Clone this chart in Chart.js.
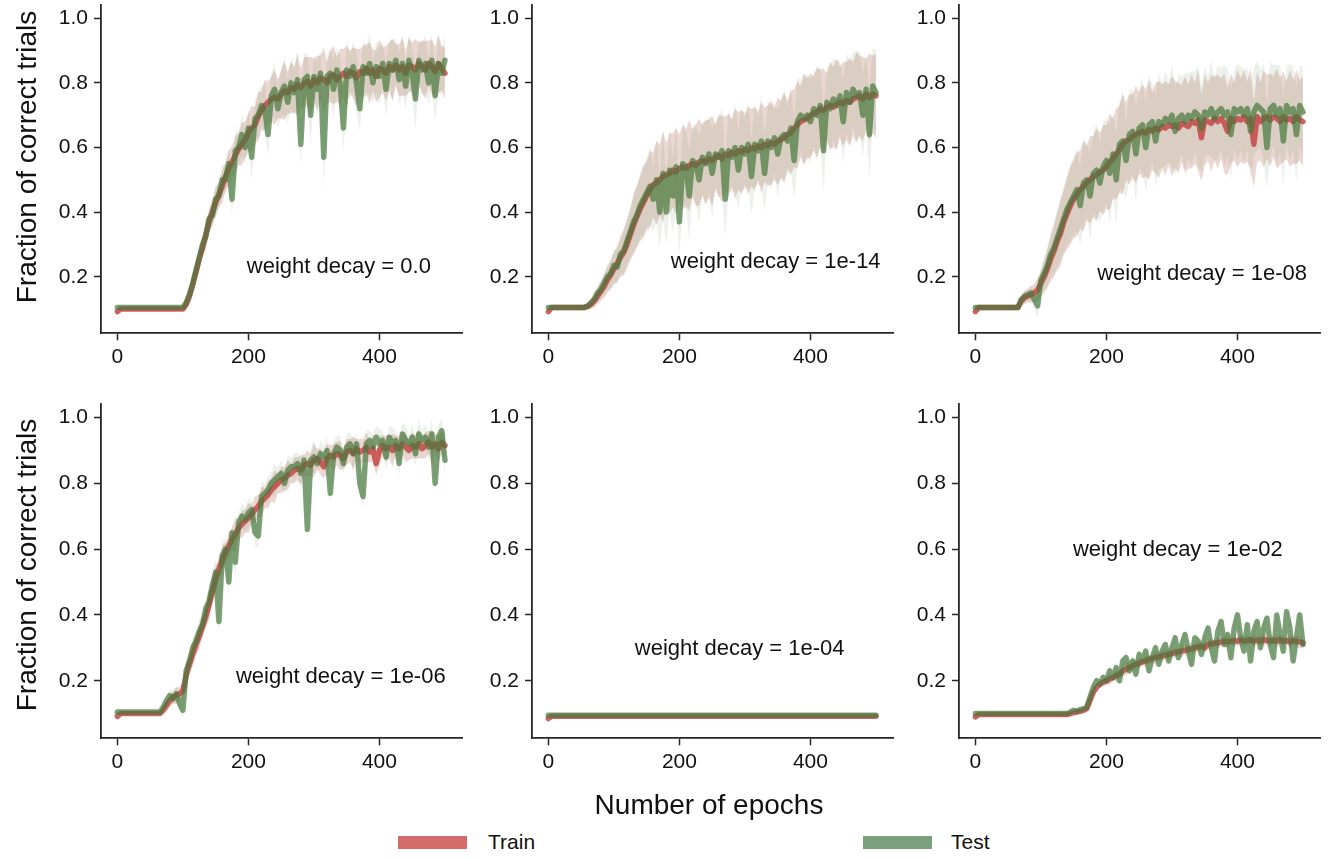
<!DOCTYPE html>
<html>
<head>
<meta charset="utf-8">
<script src="https://cdn.jsdelivr.net/npm/chart.js@4.4.1/dist/chart.umd.min.js"></script>
<style>
  body { margin: 0; background: #fff; width: 1332px; height: 859px; position: relative; overflow: hidden;
         font-family: 'Liberation Sans', Arial, sans-serif; color: #111; }
  canvas { position: absolute; }
  .xtitle { position: absolute; left: 509px; width: 400px; top: 789px; text-align: center; font-size: 28px; line-height: 32px; }
  .ytitle { position: absolute; left: 27px; font-size: 28px; line-height: 32px; white-space: nowrap;
            transform: translate(-50%, -50%) rotate(-90deg); }
  .patch { position: absolute; top: 836px; width: 69px; height: 13px; }
  .legtext { position: absolute; top: 830px; font-size: 21px; line-height: 24px; }
</style>
</head>
<body>
<canvas id="p0" width="470" height="380" style="left:0px;top:0px"></canvas>
<canvas id="p1" width="470" height="380" style="left:431px;top:0px"></canvas>
<canvas id="p2" width="470" height="380" style="left:858px;top:0px"></canvas>
<canvas id="p3" width="470" height="380" style="left:0px;top:400px"></canvas>
<canvas id="p4" width="470" height="380" style="left:431px;top:400px"></canvas>
<canvas id="p5" width="470" height="380" style="left:858px;top:400px"></canvas>
<div class="ytitle" style="top:157px">Fraction of correct trials</div>
<div class="ytitle" style="top:565px">Fraction of correct trials</div>
<div class="xtitle">Number of epochs</div>
<div class="patch" style="left:398px;background:#d36b6b"></div>
<div class="legtext" style="left:488px">Train</div>
<div class="patch" style="left:863px;background:#7ba07b"></div>
<div class="legtext" style="left:951px">Test</div>
<script>
// epochs sampled every 5 (0..500)
const epochs = Array.from({length: 101}, (_, i) => i * 5);
const flatEpochs = [0, 5, 100, 200, 300, 400, 500];
const xTicks = [0, 200, 400];
const yTicks = [0.2, 0.4, 0.6, 0.8, 1.0];
const decayLabels = ['0.0', '1e-14', '1e-08', '1e-06', '1e-04', '1e-02'];

// weight decay = 0.0
const trainWd0 = [
  0.092, 0.1, 0.1, 0.1, 0.1, 0.1, 0.1, 0.1, 0.1, 0.1,
  0.1, 0.1, 0.1, 0.1, 0.1, 0.1, 0.1, 0.1, 0.1, 0.1,
  0.1, 0.115, 0.14, 0.175, 0.215, 0.255, 0.29, 0.33, 0.37, 0.4,
  0.43, 0.455, 0.48, 0.51, 0.535, 0.555, 0.575, 0.595, 0.61, 0.625,
  0.645, 0.66, 0.67, 0.695, 0.715, 0.73, 0.74, 0.75, 0.755, 0.75,
  0.765, 0.775, 0.77, 0.785, 0.78, 0.795, 0.785, 0.8, 0.805, 0.79,
  0.81, 0.8, 0.815, 0.81, 0.8, 0.82, 0.825, 0.81, 0.82, 0.83,
  0.82, 0.835, 0.83, 0.815, 0.835, 0.83, 0.845, 0.83, 0.84, 0.82,
  0.845, 0.84, 0.83, 0.85, 0.84, 0.855, 0.84, 0.85, 0.83, 0.855,
  0.85, 0.84, 0.86, 0.85, 0.84, 0.86, 0.85, 0.835, 0.86, 0.845,
  0.83
];
const testWd0 = [
  0.105, 0.105, 0.105, 0.105, 0.105, 0.105, 0.105, 0.105, 0.105, 0.105,
  0.105, 0.105, 0.105, 0.105, 0.105, 0.105, 0.105, 0.105, 0.105, 0.105,
  0.105, 0.12, 0.145, 0.18, 0.22, 0.26, 0.3, 0.325, 0.38, 0.39,
  0.44, 0.45, 0.5, 0.5, 0.55, 0.44, 0.59, 0.6, 0.64, 0.6,
  0.66, 0.57, 0.69, 0.7, 0.73, 0.72, 0.64, 0.76, 0.78, 0.72,
  0.77, 0.79, 0.74, 0.8, 0.77, 0.81, 0.61, 0.81, 0.82, 0.7,
  0.82, 0.78, 0.83, 0.57, 0.82, 0.83, 0.78, 0.84, 0.8, 0.66,
  0.84, 0.82, 0.85, 0.8, 0.72, 0.85, 0.83, 0.86, 0.8, 0.85,
  0.82, 0.86, 0.78, 0.86, 0.84, 0.87, 0.81, 0.86, 0.79, 0.87,
  0.83, 0.75, 0.87, 0.84, 0.86, 0.8, 0.87, 0.76, 0.86, 0.83,
  0.87
];
const spreadWd0 = [
  0.005, 0.005, 0.005, 0.005, 0.005, 0.005, 0.005, 0.005, 0.005, 0.005,
  0.005, 0.005, 0.005, 0.005, 0.005, 0.005, 0.005, 0.005, 0.005, 0.005,
  0.005, 0.02, 0.025, 0.03, 0.03, 0.035, 0.03, 0.04, 0.035, 0.04,
  0.045, 0.04, 0.05, 0.045, 0.055, 0.05, 0.06, 0.05, 0.065, 0.055,
  0.06, 0.07, 0.055, 0.075, 0.06, 0.08, 0.065, 0.07, 0.085, 0.06,
  0.075, 0.09, 0.065, 0.08, 0.07, 0.095, 0.06, 0.08, 0.075, 0.09,
  0.065, 0.085, 0.07, 0.1, 0.065, 0.08, 0.09, 0.07, 0.085, 0.075,
  0.095, 0.065, 0.08, 0.09, 0.07, 0.085, 0.075, 0.095, 0.065, 0.08,
  0.09, 0.07, 0.085, 0.075, 0.095, 0.065, 0.08, 0.09, 0.07, 0.085,
  0.075, 0.095, 0.065, 0.08, 0.09, 0.07, 0.085, 0.075, 0.09, 0.07,
  0.08
];

// weight decay = 1e-14
const trainWd14 = [
  0.092, 0.105, 0.105, 0.105, 0.105, 0.105, 0.105, 0.105, 0.105, 0.105,
  0.105, 0.105, 0.108, 0.115, 0.125, 0.14, 0.155, 0.17, 0.19, 0.205,
  0.225, 0.24, 0.26, 0.275, 0.3, 0.33, 0.36, 0.385, 0.41, 0.43,
  0.45, 0.47, 0.485, 0.49, 0.5, 0.51, 0.515, 0.52, 0.53, 0.525,
  0.535, 0.54, 0.535, 0.545, 0.55, 0.545, 0.555, 0.56, 0.555, 0.565,
  0.56, 0.57, 0.575, 0.565, 0.58, 0.575, 0.585, 0.58, 0.59, 0.585,
  0.595, 0.59, 0.6, 0.595, 0.605, 0.6, 0.61, 0.605, 0.615, 0.61,
  0.62, 0.625, 0.63, 0.64, 0.645, 0.66, 0.67, 0.68, 0.685, 0.69,
  0.7, 0.705, 0.71, 0.72, 0.715, 0.725, 0.73, 0.725, 0.735, 0.74,
  0.735, 0.745, 0.74, 0.75, 0.755, 0.76, 0.75, 0.765, 0.755, 0.765,
  0.76
];
const testWd14 = [
  0.105, 0.105, 0.105, 0.105, 0.105, 0.105, 0.105, 0.105, 0.105, 0.105,
  0.105, 0.105, 0.11, 0.12, 0.13, 0.15, 0.16, 0.18, 0.2, 0.21,
  0.235, 0.23, 0.27, 0.28, 0.31, 0.34, 0.37, 0.39, 0.42, 0.44,
  0.46, 0.48, 0.44, 0.5, 0.4, 0.52, 0.4, 0.53, 0.45, 0.54,
  0.37, 0.55, 0.54, 0.45, 0.56, 0.55, 0.5, 0.57, 0.55, 0.58,
  0.52, 0.58, 0.57, 0.59, 0.44, 0.59, 0.57, 0.6, 0.53, 0.6,
  0.58, 0.61, 0.51, 0.61, 0.59, 0.62, 0.52, 0.62, 0.6, 0.63,
  0.58, 0.63, 0.64, 0.62, 0.66, 0.56, 0.68, 0.7, 0.69, 0.7,
  0.68, 0.72, 0.7, 0.73, 0.59, 0.74, 0.72, 0.75, 0.73, 0.76,
  0.68, 0.77, 0.74, 0.78, 0.76, 0.77, 0.7, 0.78, 0.64, 0.79,
  0.77
];
const spreadWd14 = [
  0.005, 0.005, 0.005, 0.005, 0.005, 0.005, 0.005, 0.005, 0.005, 0.005,
  0.005, 0.005, 0.01, 0.015, 0.02, 0.025, 0.03, 0.035, 0.04, 0.045,
  0.05, 0.055, 0.06, 0.07, 0.075, 0.08, 0.09, 0.095, 0.1, 0.11,
  0.105, 0.12, 0.1, 0.13, 0.11, 0.14, 0.1, 0.125, 0.115, 0.135,
  0.105, 0.13, 0.12, 0.14, 0.105, 0.125, 0.135, 0.11, 0.13, 0.12,
  0.14, 0.1, 0.125, 0.135, 0.115, 0.13, 0.105, 0.14, 0.12, 0.13,
  0.11, 0.135, 0.12, 0.13, 0.105, 0.14, 0.115, 0.125, 0.13, 0.11,
  0.135, 0.12, 0.14, 0.105, 0.13, 0.12, 0.135, 0.11, 0.14, 0.125,
  0.13, 0.115, 0.14, 0.12, 0.13, 0.105, 0.135, 0.125, 0.14, 0.11,
  0.13, 0.12, 0.135, 0.115, 0.14, 0.125, 0.13, 0.11, 0.135, 0.12,
  0.13
];

// weight decay = 1e-08
const trainWd8 = [
  0.092, 0.105, 0.105, 0.105, 0.105, 0.105, 0.105, 0.105, 0.105, 0.105,
  0.105, 0.105, 0.105, 0.105, 0.125, 0.135, 0.14, 0.145, 0.15, 0.16,
  0.18, 0.2, 0.225, 0.255, 0.28, 0.31, 0.335, 0.37, 0.395, 0.42,
  0.44, 0.455, 0.47, 0.48, 0.49, 0.5, 0.51, 0.515, 0.525, 0.53,
  0.54, 0.555, 0.565, 0.58, 0.595, 0.61, 0.62, 0.625, 0.635, 0.64,
  0.645, 0.65, 0.645, 0.655, 0.65, 0.66, 0.655, 0.665, 0.66, 0.67,
  0.665, 0.67, 0.66, 0.675, 0.67, 0.665, 0.68, 0.675, 0.685, 0.63,
  0.685, 0.68, 0.675, 0.69, 0.68, 0.69, 0.675, 0.65, 0.69, 0.68,
  0.69, 0.685, 0.695, 0.68, 0.69, 0.61, 0.695, 0.68, 0.69, 0.695,
  0.685, 0.695, 0.69, 0.68, 0.695, 0.685, 0.69, 0.68, 0.695, 0.685,
  0.68
];
const testWd8 = [
  0.105, 0.105, 0.105, 0.105, 0.105, 0.105, 0.105, 0.105, 0.105, 0.105,
  0.105, 0.105, 0.105, 0.105, 0.13, 0.14, 0.145, 0.15, 0.13, 0.11,
  0.19, 0.21, 0.235, 0.27, 0.29, 0.32, 0.35, 0.38, 0.41, 0.43,
  0.45, 0.47, 0.42, 0.49, 0.5, 0.45, 0.52, 0.53, 0.49, 0.54,
  0.56, 0.52, 0.58, 0.5, 0.61, 0.62, 0.56, 0.64, 0.65, 0.58,
  0.66, 0.67, 0.6, 0.67, 0.68, 0.62, 0.68, 0.67, 0.69, 0.68,
  0.7, 0.65, 0.69, 0.7, 0.68, 0.7, 0.69, 0.71, 0.7, 0.66,
  0.71, 0.7, 0.72, 0.69, 0.71, 0.72, 0.7, 0.71, 0.64, 0.72,
  0.71, 0.72, 0.7, 0.72, 0.65, 0.71, 0.73, 0.72, 0.71, 0.6,
  0.72, 0.73, 0.7, 0.72, 0.62, 0.73, 0.71, 0.72, 0.64, 0.73,
  0.71
];
const spreadWd8 = [
  0.005, 0.005, 0.005, 0.005, 0.005, 0.005, 0.005, 0.005, 0.005, 0.005,
  0.005, 0.005, 0.005, 0.005, 0.015, 0.02, 0.02, 0.025, 0.03, 0.035,
  0.04, 0.05, 0.06, 0.07, 0.08, 0.09, 0.1, 0.1, 0.11, 0.12,
  0.12, 0.13, 0.12, 0.14, 0.115, 0.135, 0.125, 0.145, 0.12, 0.14,
  0.13, 0.15, 0.125, 0.14, 0.135, 0.155, 0.12, 0.14, 0.13, 0.15,
  0.125, 0.145, 0.135, 0.155, 0.12, 0.14, 0.15, 0.13, 0.145, 0.125,
  0.155, 0.135, 0.14, 0.12, 0.15, 0.13, 0.145, 0.125, 0.155, 0.135,
  0.14, 0.12, 0.15, 0.13, 0.145, 0.125, 0.155, 0.135, 0.14, 0.12,
  0.15, 0.13, 0.145, 0.125, 0.155, 0.135, 0.14, 0.12, 0.15, 0.13,
  0.145, 0.125, 0.155, 0.135, 0.14, 0.12, 0.15, 0.13, 0.145, 0.125,
  0.14
];

// weight decay = 1e-06
const trainWd6 = [
  0.092, 0.1, 0.1, 0.1, 0.1, 0.1, 0.1, 0.1, 0.1, 0.1,
  0.1, 0.1, 0.1, 0.1, 0.11, 0.125, 0.14, 0.15, 0.155, 0.16,
  0.17, 0.215, 0.25, 0.28, 0.31, 0.335, 0.365, 0.395, 0.43, 0.47,
  0.51, 0.54, 0.565, 0.59, 0.61, 0.63, 0.645, 0.665, 0.675, 0.685,
  0.695, 0.705, 0.72, 0.73, 0.745, 0.755, 0.765, 0.78, 0.79, 0.8,
  0.81, 0.815, 0.825, 0.83, 0.84, 0.845, 0.84, 0.855, 0.86, 0.855,
  0.87, 0.875, 0.865, 0.85, 0.875, 0.885, 0.88, 0.89, 0.885, 0.875,
  0.895, 0.9, 0.89, 0.905, 0.895, 0.9, 0.91, 0.895, 0.905, 0.86,
  0.9, 0.915, 0.905, 0.91, 0.9, 0.915, 0.905, 0.92, 0.91, 0.9,
  0.915, 0.91, 0.92, 0.905, 0.915, 0.925, 0.91, 0.92, 0.905, 0.925,
  0.915
];
const testWd6 = [
  0.105, 0.105, 0.105, 0.105, 0.105, 0.105, 0.105, 0.105, 0.105, 0.105,
  0.105, 0.105, 0.105, 0.105, 0.12, 0.14, 0.155, 0.145, 0.16, 0.13,
  0.11, 0.23, 0.26, 0.3, 0.32, 0.35, 0.37, 0.42, 0.44, 0.49,
  0.53, 0.38, 0.58, 0.6, 0.5, 0.65, 0.56, 0.68, 0.7, 0.69,
  0.71, 0.72, 0.65, 0.64, 0.76, 0.77, 0.78, 0.8, 0.81, 0.82,
  0.83, 0.8, 0.84, 0.85, 0.85, 0.86, 0.83, 0.87, 0.66, 0.87,
  0.88, 0.86, 0.89, 0.88, 0.9, 0.77, 0.89, 0.91, 0.9, 0.86,
  0.91, 0.92, 0.89, 0.92, 0.8, 0.76, 0.92, 0.93, 0.91, 0.94,
  0.92, 0.93, 0.88, 0.94, 0.92, 0.93, 0.86, 0.95, 0.93, 0.92,
  0.94, 0.89, 0.95, 0.93, 0.94, 0.91, 0.95, 0.8, 0.94, 0.96,
  0.87
];
const spreadWd6 = [
  0.004, 0.004, 0.004, 0.004, 0.004, 0.004, 0.004, 0.004, 0.004, 0.004,
  0.004, 0.004, 0.004, 0.004, 0.01, 0.015, 0.02, 0.02, 0.025, 0.02,
  0.025, 0.03, 0.025, 0.035, 0.03, 0.04, 0.03, 0.035, 0.045, 0.03,
  0.04, 0.035, 0.045, 0.03, 0.04, 0.035, 0.05, 0.03, 0.04, 0.035,
  0.045, 0.03, 0.04, 0.035, 0.045, 0.03, 0.04, 0.035, 0.05, 0.03,
  0.04, 0.035, 0.045, 0.03, 0.04, 0.035, 0.045, 0.03, 0.04, 0.035,
  0.05, 0.03, 0.04, 0.035, 0.045, 0.03, 0.04, 0.035, 0.045, 0.03,
  0.04, 0.035, 0.05, 0.03, 0.04, 0.035, 0.045, 0.03, 0.04, 0.035,
  0.045, 0.03, 0.04, 0.035, 0.05, 0.03, 0.04, 0.035, 0.045, 0.03,
  0.04, 0.035, 0.045, 0.03, 0.04, 0.035, 0.05, 0.03, 0.04, 0.035,
  0.04
];

// weight decay = 1e-04 (stays at chance)
const trainWd4 = [0.085, 0.092, 0.092, 0.092, 0.092, 0.092, 0.092];
const testWd4 = [0.095, 0.095, 0.095, 0.095, 0.095, 0.095, 0.095];
const spreadWd4 = [0.002, 0.002, 0.002, 0.002, 0.002, 0.002, 0.002];

// weight decay = 1e-02
const trainWd2 = [
  0.09, 0.097, 0.097, 0.097, 0.097, 0.097, 0.097, 0.097, 0.097, 0.097,
  0.097, 0.097, 0.097, 0.097, 0.097, 0.097, 0.097, 0.097, 0.097, 0.097,
  0.097, 0.097, 0.097, 0.097, 0.097, 0.097, 0.097, 0.097, 0.097, 0.1,
  0.103, 0.105, 0.107, 0.11, 0.115, 0.14, 0.165, 0.18, 0.19, 0.195,
  0.2, 0.205, 0.21, 0.215, 0.22, 0.23, 0.235, 0.24, 0.245, 0.25,
  0.253, 0.257, 0.26, 0.265, 0.268, 0.27, 0.273, 0.275, 0.278, 0.28,
  0.283, 0.285, 0.288, 0.29, 0.293, 0.295, 0.298, 0.3, 0.302, 0.305,
  0.3, 0.31, 0.312, 0.315, 0.315, 0.318, 0.32, 0.318, 0.32, 0.322,
  0.32, 0.323, 0.32, 0.322, 0.325, 0.32, 0.323, 0.32, 0.325, 0.322,
  0.32, 0.323, 0.32, 0.325, 0.32, 0.322, 0.318, 0.322, 0.32, 0.318,
  0.315
];
const testWd2 = [
  0.1, 0.1, 0.1, 0.1, 0.1, 0.1, 0.1, 0.1, 0.1, 0.1,
  0.1, 0.1, 0.1, 0.1, 0.1, 0.1, 0.1, 0.1, 0.1, 0.1,
  0.1, 0.1, 0.1, 0.1, 0.1, 0.1, 0.1, 0.1, 0.1, 0.105,
  0.11, 0.108, 0.112, 0.115, 0.12, 0.15, 0.18, 0.2, 0.19, 0.21,
  0.2, 0.23, 0.21, 0.24, 0.2, 0.26, 0.27, 0.23, 0.26, 0.22,
  0.28, 0.26, 0.29, 0.23, 0.27, 0.3, 0.25, 0.29, 0.31, 0.26,
  0.3, 0.33, 0.27, 0.31, 0.34, 0.29, 0.25, 0.33, 0.32, 0.28,
  0.33, 0.36, 0.3, 0.26, 0.35, 0.38, 0.31, 0.34, 0.27, 0.36,
  0.4, 0.33, 0.29, 0.37, 0.26, 0.35, 0.38, 0.3, 0.36, 0.39,
  0.31, 0.27, 0.4, 0.34, 0.29, 0.41, 0.36, 0.26, 0.33, 0.4,
  0.31
];
const spreadWd2 = [
  0.003, 0.003, 0.003, 0.003, 0.003, 0.003, 0.003, 0.003, 0.003, 0.003,
  0.003, 0.003, 0.003, 0.003, 0.003, 0.003, 0.003, 0.003, 0.003, 0.003,
  0.003, 0.003, 0.003, 0.003, 0.003, 0.003, 0.003, 0.003, 0.003, 0.003,
  0.003, 0.003, 0.003, 0.004, 0.005, 0.008, 0.01, 0.012, 0.01, 0.012,
  0.012, 0.016, 0.01, 0.018, 0.012, 0.015, 0.02, 0.011, 0.017, 0.013,
  0.016, 0.01, 0.019, 0.012, 0.015, 0.02, 0.011, 0.017, 0.013, 0.018,
  0.012, 0.016, 0.01, 0.019, 0.013, 0.015, 0.02, 0.011, 0.017, 0.012,
  0.018, 0.012, 0.016, 0.01, 0.019, 0.013, 0.015, 0.02, 0.011, 0.017,
  0.013, 0.018, 0.012, 0.016, 0.01, 0.019, 0.013, 0.015, 0.02, 0.011,
  0.017, 0.012, 0.018, 0.012, 0.016, 0.01, 0.019, 0.013, 0.015, 0.02,
  0.014
];

const FONT = "'Liberation Sans', Arial, sans-serif";
const AXIS = '#262626';

const panels = [
  { x: epochs, train: trainWd0, test: testWd0, spread: spreadWd0, label: decayLabels[0], at: [338, 0.229], row: 0 },
  { x: epochs, train: trainWd14, test: testWd14, spread: spreadWd14, label: decayLabels[1], at: [347, 0.245], row: 0 },
  { x: epochs, train: trainWd8, test: testWd8, spread: spreadWd8, label: decayLabels[2], at: [346, 0.208], row: 0 },
  { x: epochs, train: trainWd6, test: testWd6, spread: spreadWd6, label: decayLabels[3], at: [341, 0.212], row: 1 },
  { x: flatEpochs, train: trainWd4, test: testWd4, spread: spreadWd4, label: decayLabels[4], at: [292, 0.298], row: 1 },
  { x: epochs, train: trainWd2, test: testWd2, spread: spreadWd2, label: decayLabels[5], at: [309, 0.597], row: 1 }
];

// writes "weight decay = ..." inside each panel at a data position
const decayText = {
  id: 'decayText',
  afterDatasetsDraw(chart, args, opts) {
    const {ctx, scales: {x, y}} = chart;
    ctx.save();
    ctx.font = '22px ' + FONT;
    ctx.fillStyle = '#111';
    ctx.textAlign = 'center';
    ctx.textBaseline = 'middle';
    ctx.fillText('weight decay = ' + opts.text, x.getPixelForValue(opts.at[0]), y.getPixelForValue(opts.at[1]));
    ctx.restore();
  }
};

function pts(xs, ys, off = null, sign = 0) {
  return xs.map((e, i) => ({x: e, y: ys[i] + (off ? sign * off[i] : 0)}));
}

function band(data, color, order) {
  return { data: data, borderWidth: 0, pointRadius: 0, backgroundColor: color, fill: false, order: order };
}

function drawPanel(p, i) {
  const ctx = document.getElementById('p' + i).getContext('2d');
  const trainHi = band(pts(p.x, p.train, p.spread, 1), 'rgba(180,110,90,0.28)', 5);
  trainHi.fill = '+1';
  const trainLo = band(pts(p.x, p.train, p.spread, -1), 'rgba(180,110,90,0.28)', 5);
  const testHi = band(pts(p.x, p.test, p.spread, 1), 'rgba(110,140,100,0.12)', 4);
  testHi.fill = '+1';
  const testLo = band(pts(p.x, p.test, p.spread, -1), 'rgba(110,140,100,0.12)', 4);

  const lineStyle = { pointRadius: 0, borderWidth: 5.5, borderJoinStyle: 'round', borderCapStyle: 'round', fill: false, tension: 0 };

  new Chart(ctx, {
    type: 'line',
    data: {
      datasets: [
        trainHi, trainLo, testHi, testLo,
        Object.assign({ label: 'Train', data: pts(p.x, p.train), borderColor: 'rgba(200,70,70,0.85)', order: 1 }, lineStyle),
        Object.assign({ label: 'Test', data: pts(p.x, p.test), borderColor: 'rgba(70,120,60,0.7)', order: 0 }, lineStyle)
      ]
    },
    plugins: [decayText],
    options: {
      responsive: false,
      animation: false,
      devicePixelRatio: 1,
      layout: { padding: { top: p.row ? 4 : 5, right: 8, left: 0, bottom: 0 } },
      plugins: {
        legend: { display: false },
        tooltip: { enabled: false },
        decayText: { text: p.label, at: p.at }
      },
      scales: {
        x: {
          type: 'linear', min: -25, max: 526,
          afterBuildTicks: s => { s.ticks = xTicks.map(v => ({value: v})); },
          afterFit: s => { s.height = p.row ? 41.7 : 46.7; },
          grid: { drawOnChartArea: false, drawTicks: true, tickLength: 7, tickWidth: 1.5, tickColor: AXIS },
          border: { display: true, color: AXIS, width: 1.8 },
          ticks: { color: '#111', font: { size: 21, family: FONT }, padding: 4, maxRotation: 0, autoSkip: false }
        },
        y: {
          type: 'linear', min: 0.025, max: 1.041,
          afterBuildTicks: s => { s.ticks = yTicks.map(v => ({value: v})); },
          // fixed axis width; drop the label overhang so the plot top stays put
          afterFit: s => { s.width = 101; s.paddingTop = 0; s.paddingBottom = 0; },
          grid: { drawOnChartArea: false, drawTicks: true, tickLength: 7, tickWidth: 1.5, tickColor: AXIS },
          border: { display: true, color: AXIS, width: 1.8 },
          ticks: { color: '#111', font: { size: 21, family: FONT }, padding: 6, callback: v => v.toFixed(1) }
        }
      }
    }
  });
}

panels.forEach(drawPanel);
</script>
</body>
</html>
